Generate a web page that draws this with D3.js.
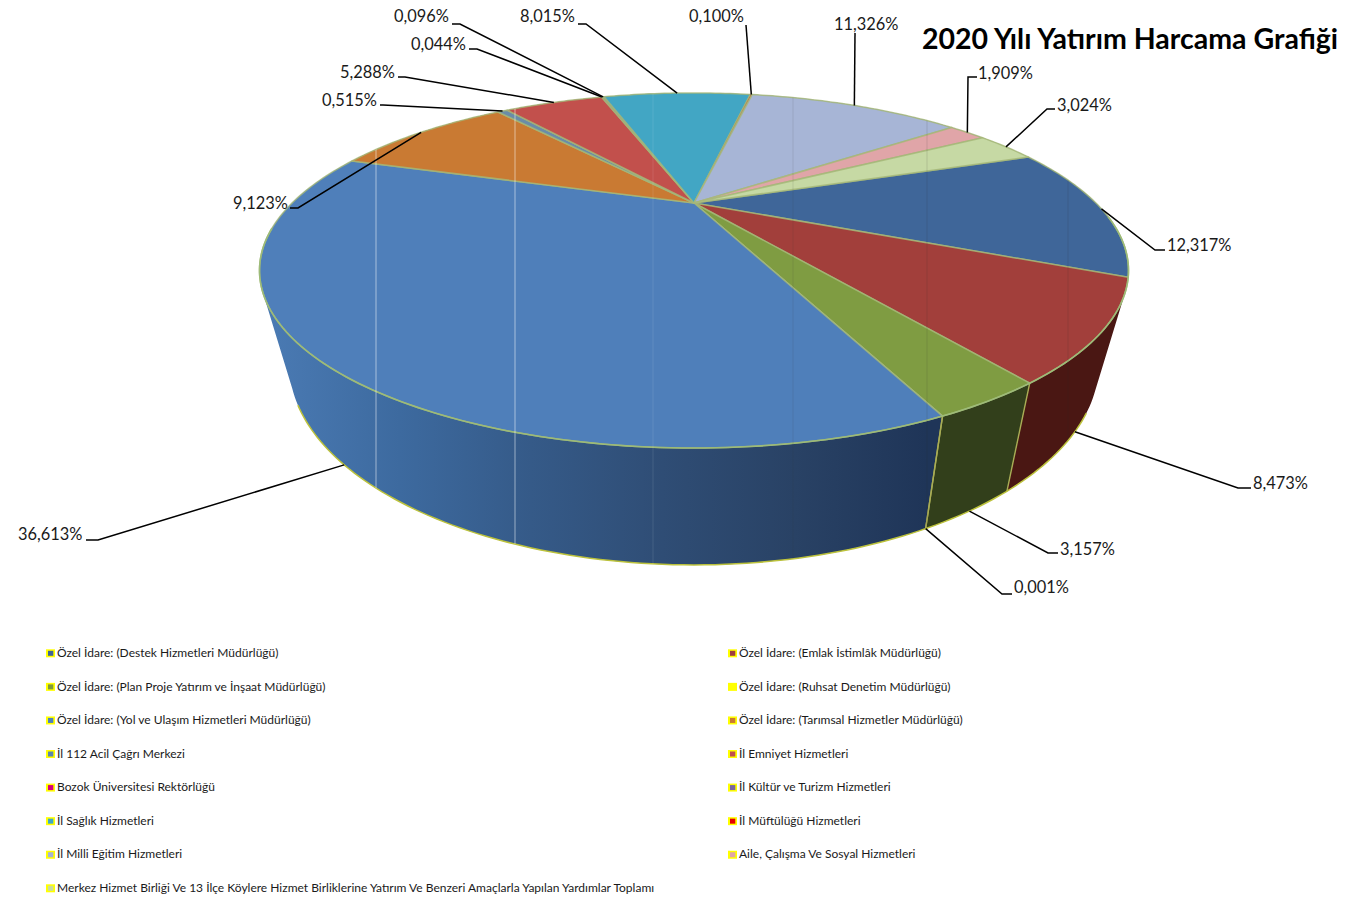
<!DOCTYPE html>
<html><head><meta charset="utf-8">
<script src="https://cdn.jsdelivr.net/npm/d3@7/dist/d3.min.js"></script>
<style>
html,body{margin:0;padding:0;background:#fff}
svg{display:block}
text{font-family:Lato,"Open Sans",sans-serif;fill:#1a1a1a}
</style></head><body><svg id="c" width="1371" height="900"></svg>
<script>
const titleText = "2020 Yılı Yatırım Harcama Grafiği";
const categories = [
 "Özel İdare: (Destek Hizmetleri Müdürlüğü)","Özel İdare: (Emlak İstimlâk Müdürlüğü)",
 "Özel İdare: (Plan Proje Yatırım ve İnşaat Müdürlüğü)","Özel İdare: (Ruhsat Denetim Müdürlüğü)",
 "Özel İdare: (Yol ve Ulaşım Hizmetleri Müdürlüğü)","Özel İdare: (Tarımsal Hizmetler Müdürlüğü)",
 "İl 112 Acil Çağrı Merkezi","İl Emniyet Hizmetleri",
 "Bozok Üniversitesi Rektörlüğü","İl Kültür ve Turizm Hizmetleri",
 "İl Sağlık Hizmetleri","İl Müftülüğü Hizmetleri",
 "İl Milli Eğitim Hizmetleri","Aile, Çalışma Ve Sosyal Hizmetleri",
 "Merkez Hizmet Birliği Ve 13 İlçe Köylere Hizmet Birliklerine Yatırım Ve Benzeri Amaçlarla Yapılan Yardımlar Toplamı"];
const values = [12.317,8.473,3.157,0.001,36.613,9.123,0.515,5.288,0.044,0.096,8.015,0.100,11.326,1.909,3.024];
const valueLabels = ["12,317%","8,473%","3,157%","0,001%","36,613%","9,123%","0,515%","5,288%","0,044%","0,096%","8,015%","0,100%","11,326%","1,909%","3,024%"];

// styles
const topColors = ["#3f6699","#a23f3b","#7f9c42","#ffff00","#4f7fba","#c97a33","#6a8ca8","#c2504c","#d6007e","#7b66a0","#42a6c4","#e60000","#a7b5d6","#e0a5a8","#c6d9a4"];
const legendColors = ["#3f6497","#a0403c","#7f9a3f","#ffff00","#4f81bd","#c97a32","#5b86ad","#c0504d","#d6007e","#7b66a0","#3fa8c6","#e60000","#a5b4d6","#e0a5a5","#c9dca0"];
const wallColors = ["#2a4468","#4a1713","#323f1b","#c8c840","url(#blueWall)","#7a4a1c","#3f566c","#7a2f2d","#80004b","#4a3d60","#276576","#8a0000","#646c80","#866364","#778263"];
// layout of the data labels: text x, text baseline, elbow x, stub end x, stub y, leader ends on the bottom rim (1) or top rim (0)
const labelLayout = [
 [1167,251,1155,1165,250,0],[1253,489,1238,1251,488,1],[1060,555,1048,1058,553,1],[1014,593,1002,1012,594,1],
 [18,540,98,86,540,1],[233,209,298,290,208,0],[322,106,383,380,105,0],[340,78,405,398,77,0],
 [411,50,477,469,49,0],[394,22,460,452,24,0],[520,22,586,578,24,0],[689,22,746,746,25,0],
 [834,30,855,855,33,0],[978,79,968,977,77,0],[1057,111,1047,1055,109,0]];
const seamX = [376,515,653,793,927,1068];
const seamStyle = [["#fff",.5],["#fff",.5],["#fff",.1],["#333",.12],["#333",.14],["#333",.14]];

const svg = d3.select("#c");

// perspective projection of the circular pie on screen
const apexX=694, apexY=203, k=401.9, a=151.9, c=0.38;
const depthX=0.932, depthA=1.136, depthB=56;
function project(theta,r,bottom){
  const u=r*Math.sin(theta), v=-r*Math.cos(theta), d=1-c*v;
  let x=apexX+k*u/d, y=apexY+a*v/d;
  if(bottom){x=apexX+depthX*(x-apexX); y=depthA*y+depthB;}
  return [x,y];
}
const rad=Math.PI/180;
const startDeg=70, nearFrom=125, nearTo=238;
const pie=d3.pie().sort(null).value(d=>d).startAngle(startDeg*rad).endAngle((startDeg+360)*rad);
const arcs=pie(values);
function samples(a0,a1){
  const n=Math.max(1,Math.ceil((a1-a0)/rad));
  return d3.range(n+1).map(i=>a0+(a1-a0)*i/n);
}
const line=d3.line();
const facePath=d=>line([[apexX,apexY],...samples(d.startAngle,d.endAngle).map(t=>project(t,1,false))])+"Z";
function wallPath(d){
  const s=samples(d.startAngle,d.endAngle); let out="";
  for(let i=0;i<s.length-1;i++){
    let q=[project(s[i],1,false),project(s[i+1],1,false),project(s[i+1],1,true),project(s[i],1,true)];
    if(d3.polygonArea(q)<0) q.reverse();
    out+=line(q)+"Z";
  }
  return out;
}
const defs=svg.append("defs");
const grad=defs.append("linearGradient").attr("id","blueWall").attr("gradientUnits","userSpaceOnUse")
  .attr("x1",268).attr("x2",926).attr("y1",0).attr("y2",0);
[[0,"#4a7ab3"],[.2,"#3d6a9f"],[.4,"#355a88"],[.6,"#2f4d75"],[.8,"#294265"],[1,"#1f3558"]]
  .forEach(s=>grad.append("stop").attr("offset",s[0]).attr("stop-color",s[1]));

const clip=defs.append("clipPath").attr("id","pieClip");
clip.selectAll("path.w").data(arcs).join("path").attr("d",wallPath);
clip.selectAll("path.f").data(arcs).join("path").attr("d",facePath);

// walls
svg.append("g").selectAll("path").data(arcs).join("path")
  .attr("d",wallPath).attr("fill",(d,i)=>wallColors[i]);
// wall separators, only where the wall faces the viewer
const visibleEdges=arcs.filter(d=>d.startAngle>=nearFrom*rad && d.startAngle<=nearTo*rad);
svg.append("g").selectAll("line").data(visibleEdges).join("line")
  .each(function(d){
    const p=project(d.startAngle,1,false), q=project(d.startAngle,1,true);
    d3.select(this).attr("x1",p[0]).attr("y1",p[1]).attr("x2",q[0]).attr("y2",q[1]);
  }).attr("stroke","#a9ad55").attr("stroke-width",1.4);
// bottom rim on the near side only
const nearRim=d3.range(nearFrom,nearTo).map(t=>project(t*rad,1,true));
svg.append("path").attr("d",line(nearRim)).attr("fill","none").attr("stroke","#bcc23c").attr("stroke-width",1.5);
// top faces
svg.append("g").selectAll("path").data(arcs).join("path")
  .attr("d",facePath).attr("fill",(d,i)=>topColors[i])
  .attr("stroke","#a5b878").attr("stroke-opacity",.8).attr("stroke-width",1.5).attr("stroke-linejoin","round");
// top rim highlight on the near side
const topRim=d3.range(95,262).map(t=>project(t*rad,1,false));
svg.append("path").attr("d",line(topRim)).attr("fill","none").attr("stroke","#9dbb78").attr("stroke-width",1.6);
// vertical seams in the picture
svg.append("g").attr("clip-path","url(#pieClip)").selectAll("line").data(seamX).join("line")
  .attr("x1",d=>d).attr("x2",d=>d).attr("y1",80).attr("y2",580)
  .attr("stroke",(d,i)=>seamStyle[i][0]).attr("stroke-opacity",(d,i)=>seamStyle[i][1]);

// leaders + labels
const gl=svg.append("g");
arcs.forEach((d,i)=>{
  const [tx,ty,ex,sx,sy,rim]=labelLayout[i];
  const mid=(d.startAngle+d.endAngle)/2;
  const p=project(mid,1,rim===1);
  gl.append("path").attr("d",line([[sx,sy],[ex,sy],p])).attr("fill","none")
    .attr("stroke","#000").attr("stroke-width",1.5);
  gl.append("text").attr("x",tx).attr("y",ty).attr("font-size",16.4).text(valueLabels[i]);
});

svg.append("text").attr("x",922).attr("y",49).attr("font-size",28.5).attr("font-weight",700)
  .style("fill","#000").text(titleText);

// legend
const colX=[47,729], rowY=d3.scalePoint().domain(d3.range(8)).range([653,888]);
const lg=svg.append("g").selectAll("g").data(categories).join("g")
  .attr("transform",(d,i)=>`translate(${colX[i%2]},${rowY(Math.floor(i/2))})`);
lg.append("rect").attr("x",-1).attr("y",-3.7).attr("width",9).attr("height",8).attr("fill","#ffff00");
lg.append("rect").attr("x",1).attr("y",-2.2).attr("width",5.3).attr("height",5).attr("fill",(d,i)=>legendColors[i]);
lg.append("text").attr("x",10).attr("y",4).attr("font-size",12).text(d=>d);
</script></body></html>
